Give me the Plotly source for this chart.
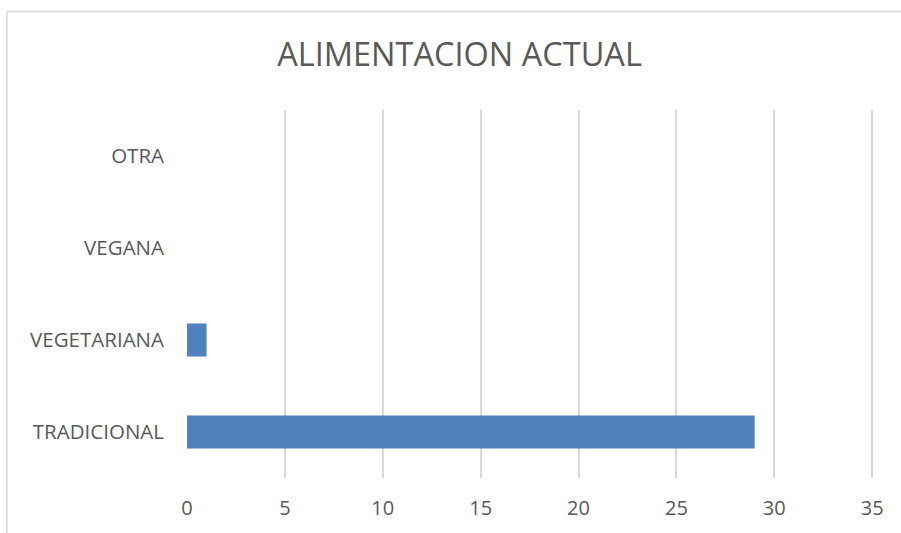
import plotly.graph_objects as go

categories = ["TRADICIONAL", "VEGETARIANA", "VEGANA", "OTRA"]
values = [29, 1, 0, 0]
x_ticks = [0, 5, 10, 15, 20, 25, 30, 35]
title_text = "ALIMENTACION ACTUAL"

XMAX = 35.3
W, H = 901, 533
L, T, B = 187, 110, 55
pw = (872 - L) * XMAX / 35
R = W - L - pw
ph = H - T - B

fig = go.Figure(go.Bar(
    x=values, y=categories, orientation="h",
    marker=dict(color="#4F81BD", line=dict(width=0)),
))

fig.update_layout(
    width=W, height=H,
    margin=dict(l=L, r=R, t=T, b=B),
    plot_bgcolor="white", paper_bgcolor="white",
    bargap=0.64,
    showlegend=False,
    font=dict(family="Open Sans", color="#595959", size=20),
    title=dict(text=title_text, x=(459.5 - L) / pw, xref="paper", xanchor="center",
               y=1 - 55 / H, yanchor="middle", yref="container",
               font=dict(size=32.5, color="#595959", family="Open Sans")),
    xaxis=dict(range=[0, XMAX], tickvals=x_ticks, showgrid=True, gridcolor="#D9D9D9",
               gridwidth=1.5, zeroline=False, showline=False, ticks="",
               ticklabelstandoff=16, tickfont=dict(size=20)),
    yaxis=dict(categoryorder="array", categoryarray=categories, showgrid=False,
               zeroline=False, showline=False, ticks="", ticklabelstandoff=22,
               tickfont=dict(size=20.5)),
    shapes=[dict(type="rect", xref="paper", yref="paper",
                 x0=(7 - L) / pw, x1=(W + 20 - L) / pw,
                 y0=-(B + 20) / ph, y1=1 + (T - 11.5) / ph,
                 line=dict(color="#D9D9D9", width=1.5), fillcolor="rgba(0,0,0,0)",
                 layer="below")],
)

fig.write_html("out.html")
